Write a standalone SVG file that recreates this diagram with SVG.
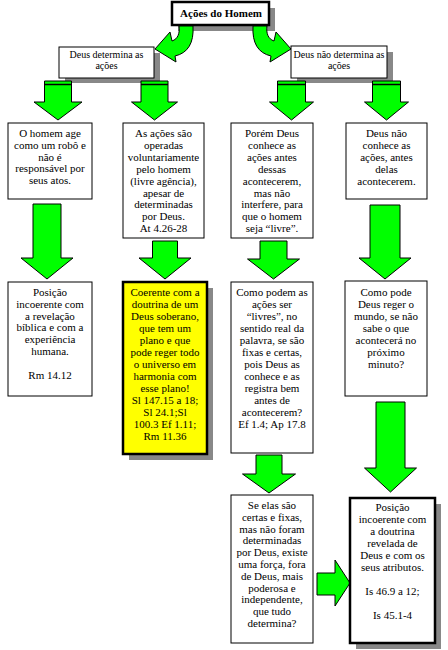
<svg xmlns="http://www.w3.org/2000/svg" width="448" height="650" viewBox="0 0 448 650" font-family="'Liberation Serif', 'Times New Roman', Times, serif">
<style>
.bg{fill:#ffffff}
.box{fill:#ffffff;stroke:#000;stroke-width:1}
.thick{stroke-width:2.5}
.yel{fill:#ffff00}
.sh{fill:#888888}
.arr{fill:#00ff00;stroke:#000;stroke-width:1;stroke-linejoin:miter}
.bar{stroke:#000;stroke-width:1.5}
text{font-family:'Liberation Serif','Times New Roman',Times,serif;font-size:11px;fill:#000;text-anchor:middle}
.small{font-size:10px}
.title{font-weight:bold;font-size:11px}
</style>
<rect class="bg" x="0" y="0" width="448" height="650"/>

<g id="title">
<rect class="sh" x="178" y="8" width="97" height="23"/>
<rect class="box thick" x="172" y="2" width="97" height="23"/>
<text class="title" x="221" y="17">Ações do Homem</text>
</g>

<g id="det">
<rect class="sh" x="65" y="53" width="95" height="30"/>
<rect class="box" x="59" y="47" width="95" height="31"/>
<text class="small" x="106.5" y="58">Deus determina as</text>
<text class="small" x="106.5" y="69">ações</text>
</g>

<g id="naodet">
<rect class="sh" x="297" y="52" width="96" height="31"/>
<rect class="box" x="291" y="46" width="96" height="32"/>
<text class="small" x="339" y="58">Deus não determina as</text>
<text class="small" x="339" y="69">ações</text>
</g>

<g id="connectors">
<path class="arr" d="M 179,26 L 193,26 C 194,43 188,53 175,56 L 176,62 L 155,49 L 170,32 L 172,41 C 178,39 180,33 179,26 Z"/>
<path class="arr" transform="translate(446,0) scale(-1,1)" d="M 179,26 L 193,26 C 194,43 188,53 175,56 L 176,62 L 155,49 L 170,32 L 172,41 C 178,39 180,33 179,26 Z"/>

<polygon class="arr" points="44.5,81 71.5,81 71.5,102 82,102 58,120 34,102 44.5,102"/>
<line class="bar" x1="44.5" y1="84.5" x2="71.5" y2="84.5"/>
<polygon class="arr" points="141,81 168,81 168,102 177.5,102 154.5,120 131.5,102 141,102"/>
<line class="bar" x1="141" y1="84.5" x2="168" y2="84.5"/>
<polygon class="arr" points="277.5,81 305.5,81 305.5,102 313.5,102 291.5,120 269.5,102 277.5,102"/>
<line class="bar" x1="277.5" y1="84.5" x2="305.5" y2="84.5"/>
<polygon class="arr" points="372.5,81 400.5,81 400.5,102 408.5,102 386.5,120 364.5,102 372.5,102"/>
<line class="bar" x1="372.5" y1="84.5" x2="400.5" y2="84.5"/>

<polygon class="arr" points="33,204 61,204 61,258 73,258 47,279 21,258 33,258"/>
<polygon class="arr" points="152.5,241 177.5,241 177.5,258 191,258 165,279 139,258 152.5,258"/>
<polygon class="arr" points="260,241 287,241 287,259 299.5,259 273.5,279 247.5,259 260,259"/>
<polygon class="arr" points="370,205 400,205 400,258 411,258 385,279 359,258 370,258"/>

<polygon class="arr" points="256,455 282,455 282,474 295.5,474 269,493 242.5,474 256,474"/>
<polygon class="arr" points="376,402 405,402 405,468 416.5,468 390.5,492 364.5,468 376,468"/>

<polygon class="arr" points="317,573 335,573 335,560 350,583 335,606 335,595 317,595"/>
</g>

<g id="robo">
<rect class="box" x="8" y="123" width="84" height="76"/>
<text x="50" y="137">O homem age</text>
<text x="50" y="148.8">como um robô e</text>
<text x="50" y="160.6">não é</text>
<text x="50" y="172.4">responsável por</text>
<text x="50" y="184.2">seus atos.</text>
</g>

<g id="voluntarias">
<rect class="box" x="123" y="123" width="81" height="115"/>
<text x="163.5" y="137">As ações são</text>
<text x="163.5" y="148.9">operadas</text>
<text x="163.5" y="160.8">voluntariamente</text>
<text x="163.5" y="172.7">pelo homem</text>
<text x="163.5" y="184.6">(livre agência),</text>
<text x="163.5" y="196.5">apesar de</text>
<text x="163.5" y="208.4">determinadas</text>
<text x="163.5" y="220.3">por Deus.</text>
<text x="163.5" y="232.2">At 4.26-28</text>
</g>

<g id="conhece">
<rect class="box" x="231" y="123" width="82" height="115"/>
<text x="272" y="137">Porém Deus</text>
<text x="272" y="148.9">conhece as</text>
<text x="272" y="160.8">ações antes</text>
<text x="272" y="172.7">dessas</text>
<text x="272" y="184.6">acontecerem,</text>
<text x="272" y="196.5">mas não</text>
<text x="272" y="208.4">interfere, para</text>
<text x="272" y="220.3">que o homem</text>
<text x="272" y="232.2">seja “livre”.</text>
</g>

<g id="naoconhece">
<rect class="box" x="346" y="123" width="81" height="76"/>
<text x="386.5" y="137">Deus não</text>
<text x="386.5" y="148.9">conhece as</text>
<text x="386.5" y="160.8">ações, antes</text>
<text x="386.5" y="172.7">delas</text>
<text x="386.5" y="184.6">acontecerem.</text>
</g>

<g id="incoerente1">
<rect class="box" x="8" y="282" width="84" height="114"/>
<text x="50" y="296">Posição</text>
<text x="50" y="307.8">incoerente com</text>
<text x="50" y="319.6">a revelação</text>
<text x="50" y="331.4">bíblica e com a</text>
<text x="50" y="343.2">experiência</text>
<text x="50" y="355">humana.</text>
<text x="50" y="378.6">Rm 14.12</text>
</g>

<g id="coerente">
<rect class="sh" x="129" y="288" width="84" height="172"/>
<rect class="box thick yel" x="123" y="282" width="84" height="172"/>
<text x="165" y="296">Coerente com a</text>
<text x="165" y="308">doutrina de um</text>
<text x="165" y="320">Deus soberano,</text>
<text x="165" y="332">que tem um</text>
<text x="165" y="344">plano e que</text>
<text x="165" y="356">pode reger todo</text>
<text x="165" y="368">o universo em</text>
<text x="165" y="380">harmonia com</text>
<text x="165" y="392">esse plano!</text>
<text x="165" y="404">Sl 147.15 a 18;</text>
<text x="165" y="416">Sl 24.1;Sl</text>
<text x="165" y="428">100.3 Ef 1.11;</text>
<text x="165" y="440">Rm 11.36</text>
</g>

<g id="livres">
<rect class="box" x="231" y="282" width="82" height="171"/>
<text x="272" y="296">Como podem as</text>
<text x="272" y="308">ações ser</text>
<text x="272" y="320">“livres”, no</text>
<text x="272" y="332">sentido real da</text>
<text x="272" y="344">palavra, se são</text>
<text x="272" y="356">fixas e certas,</text>
<text x="272" y="368">pois Deus as</text>
<text x="272" y="380">conhece e as</text>
<text x="272" y="392">registra bem</text>
<text x="272" y="404">antes de</text>
<text x="272" y="416">acontecerem?</text>
<text x="272" y="428">Ef 1.4; Ap 17.8</text>
</g>

<g id="reger">
<rect class="box" x="345" y="281" width="82" height="115"/>
<text x="386" y="296">Como pode</text>
<text x="386" y="308">Deus reger o</text>
<text x="386" y="320">mundo, se não</text>
<text x="386" y="332">sabe o que</text>
<text x="386" y="344">acontecerá no</text>
<text x="386" y="356">próximo</text>
<text x="386" y="368">minuto?</text>
</g>

<g id="forca">
<rect class="box" x="231" y="495" width="82" height="148"/>
<text x="272" y="509">Se elas são</text>
<text x="272" y="520.8">certas e fixas,</text>
<text x="272" y="532.6">mas não foram</text>
<text x="272" y="544.4">determinadas</text>
<text x="272" y="556.2">por Deus, existe</text>
<text x="272" y="568">uma força, fora</text>
<text x="272" y="579.8">de Deus, mais</text>
<text x="272" y="591.6">poderosa e</text>
<text x="272" y="603.4">independente,</text>
<text x="272" y="615.2">que tudo</text>
<text x="272" y="627">determina?</text>
</g>

<g id="incoerente2">
<rect class="sh" x="356" y="504" width="85" height="145"/>
<rect class="box thick" x="350" y="498" width="85" height="145"/>
<text x="392.5" y="511">Posição</text>
<text x="392.5" y="523">incoerente com</text>
<text x="392.5" y="535">a doutrina</text>
<text x="392.5" y="547">revelada de</text>
<text x="392.5" y="559">Deus e com os</text>
<text x="392.5" y="571">seus atributos.</text>
<text x="392.5" y="595">Is 46.9 a 12;</text>
<text x="392.5" y="619">Is 45.1-4</text>
</g>
</svg>
